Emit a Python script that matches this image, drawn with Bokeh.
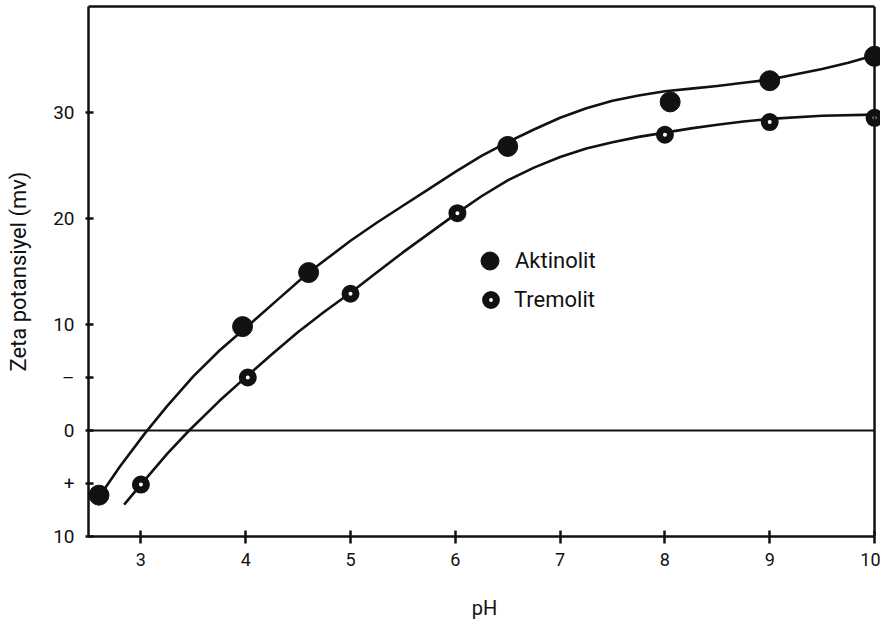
from bokeh.plotting import figure
from bokeh.models import (Range1d, FixedTicker, Span, Legend, LegendItem,
                          LinearAxis)
from bokeh.embed import file_html
from bokeh.resources import INLINE

# ---- data ----
akt_x = [2.6, 3.97, 4.6, 6.5, 8.05, 9.0, 10.0]
akt_y = [-6.1, 9.8, 14.9, 26.8, 31.0, 33.0, 35.3]
trem_x = [3.0, 4.02, 5.0, 6.02, 8.0, 9.0, 10.0]
trem_y = [-5.1, 5.0, 12.9, 20.5, 27.9, 29.1, 29.5]

# smooth fitted curves
akt_curve_x = [2.62, 2.8, 3.04, 3.25, 3.5, 3.75, 4.0, 4.3, 4.6, 5.0, 5.25, 5.5,
               5.75, 6.0, 6.25, 6.5, 6.75, 7.0, 7.25, 7.5, 7.75, 8.0, 8.25, 8.5,
               8.75, 9.0, 9.25, 9.5, 9.75, 10.0]
akt_curve_y = [-6.0, -3.4, -0.25, 2.3, 5.1, 7.55, 9.7, 12.3, 14.9, 17.9, 19.6, 21.2,
               22.8, 24.4, 25.9, 27.2, 28.4, 29.5, 30.4, 31.1, 31.6, 32.0, 32.25, 32.5,
               32.8, 33.1, 33.6, 34.1, 34.7, 35.4]
trem_curve_x = [2.84, 3.0, 3.25, 3.46, 3.75, 4.02, 4.25, 4.5, 4.75, 5.0, 5.25, 5.5,
                5.75, 6.03, 6.25, 6.5, 6.75, 7.0, 7.25, 7.5, 7.75, 8.0, 8.25, 8.5,
                8.75, 9.0, 9.5, 10.0]
trem_curve_y = [-7.0, -5.1, -2.2, 0.0, 2.8, 5.2, 7.2, 9.3, 11.2, 13.0, 14.9, 16.8,
                18.6, 20.6, 22.1, 23.6, 24.8, 25.8, 26.6, 27.2, 27.7, 28.1, 28.5, 28.85,
                29.15, 29.4, 29.7, 29.8]

x_ticks = [3, 4, 5, 6, 7, 8, 9, 10]
y_ticks = [-10, -5, 0, 5, 10, 20, 30]
y_tick_labels = {-10: "10", -5: "+", 0: "0", 5: "\u2013", 10: "10", 20: "20", 30: "30"}

series_names = ["Aktinolit", "Tremolit"]
x_title = "pH"
y_title = "Zeta potansiyel (mv)"

X_LO, X_HI = 2.5, 10.0
Y_LO, Y_HI = -10.0, 40.0

FONT = "Roboto"
INK = "#111111"

p = figure(width=880, height=628, output_backend="svg", toolbar_location=None,
           x_range=Range1d(X_LO, 10.057), y_range=Range1d(Y_LO, Y_HI),
           min_border_left=88, min_border_right=0, min_border_top=6,
           min_border_bottom=92, background_fill_color="white",
           border_fill_color="white")
p.outline_line_color = None
p.grid.visible = False

# bottom axis
xa = p.xaxis[0]
xa.ticker = FixedTicker(ticks=x_ticks)
xa.bounds = (X_LO, X_HI)
xa.axis_line_width = 2.5
xa.axis_line_color = INK
xa.major_tick_line_width = 2.5
xa.major_tick_line_color = INK
xa.major_tick_in = 6
xa.major_tick_out = 7
xa.minor_tick_line_color = None
xa.major_label_standoff = 9
xa.major_label_text_font = FONT
xa.major_label_text_font_size = "18px"
xa.major_label_text_color = INK
xa.axis_label = x_title
xa.axis_label_text_font = FONT
xa.axis_label_text_font_size = "20px"
xa.axis_label_text_font_style = "normal"
xa.axis_label_text_color = INK
xa.axis_label_standoff = 27

# left axis
ya = p.yaxis[0]
ya.ticker = FixedTicker(ticks=y_ticks)
ya.major_label_overrides = y_tick_labels
ya.axis_line_width = 2.5
ya.axis_line_color = INK
ya.major_tick_line_width = 2.5
ya.major_tick_line_color = INK
ya.major_tick_in = 5
ya.major_tick_out = 3
ya.minor_tick_line_color = None
ya.major_label_standoff = 11
ya.major_label_text_font = FONT
ya.major_label_text_font_size = "19px"
ya.major_label_text_color = INK
ya.axis_label = y_title
ya.axis_label_text_font = FONT
ya.axis_label_text_font_size = "22px"
ya.axis_label_text_font_style = "normal"
ya.axis_label_text_color = INK
ya.axis_label_standoff = 19

# top border as an extra axis limited to the plotted pH span
top = LinearAxis(ticker=FixedTicker(ticks=[]), bounds=(X_LO, X_HI),
                 axis_line_width=2.5, axis_line_color=INK, major_tick_out=0,
                 major_tick_in=0, minor_tick_line_color=None,
                 major_label_standoff=0, major_label_text_font_size="0px")
p.add_layout(top, "above")

# right border at pH 10
p.add_layout(Span(location=X_HI, dimension="height", line_color=INK, line_width=2.5))

# zero line
p.segment(x0=[X_LO], y0=[0], x1=[X_HI], y1=[0], line_color=INK, line_width=2)

# curves
p.line(akt_curve_x, akt_curve_y, line_color=INK, line_width=2.6, line_join="round")
p.line(trem_curve_x, trem_curve_y, line_color=INK, line_width=2.6, line_join="round")

# markers
r_akt = p.scatter(akt_x, akt_y, size=20, marker="circle", fill_color=INK,
                  line_color=INK)
r_trem = p.scatter(trem_x, trem_y, size=11, marker="circle", fill_color="white",
                   line_color=INK, line_width=7)

common = dict(orientation="vertical", background_fill_alpha=0,
              border_line_color=None, padding=0, margin=0, spacing=0,
              label_text_font=FONT, label_text_font_size="22px",
              label_text_color=INK)
leg1 = Legend(items=[LegendItem(label=series_names[0], renderers=[r_akt])],
              location=(379, 253), glyph_width=45, glyph_height=45,
              label_height=45, label_standoff=3, **common)
leg2 = Legend(items=[LegendItem(label=series_names[1], renderers=[r_trem])],
              location=(389, 223), glyph_width=27, glyph_height=27,
              label_height=27, label_standoff=10, **common)
p.add_layout(leg1, "center")
p.add_layout(leg2, "center")

open("out.html", "w").write(file_html(p, INLINE))
